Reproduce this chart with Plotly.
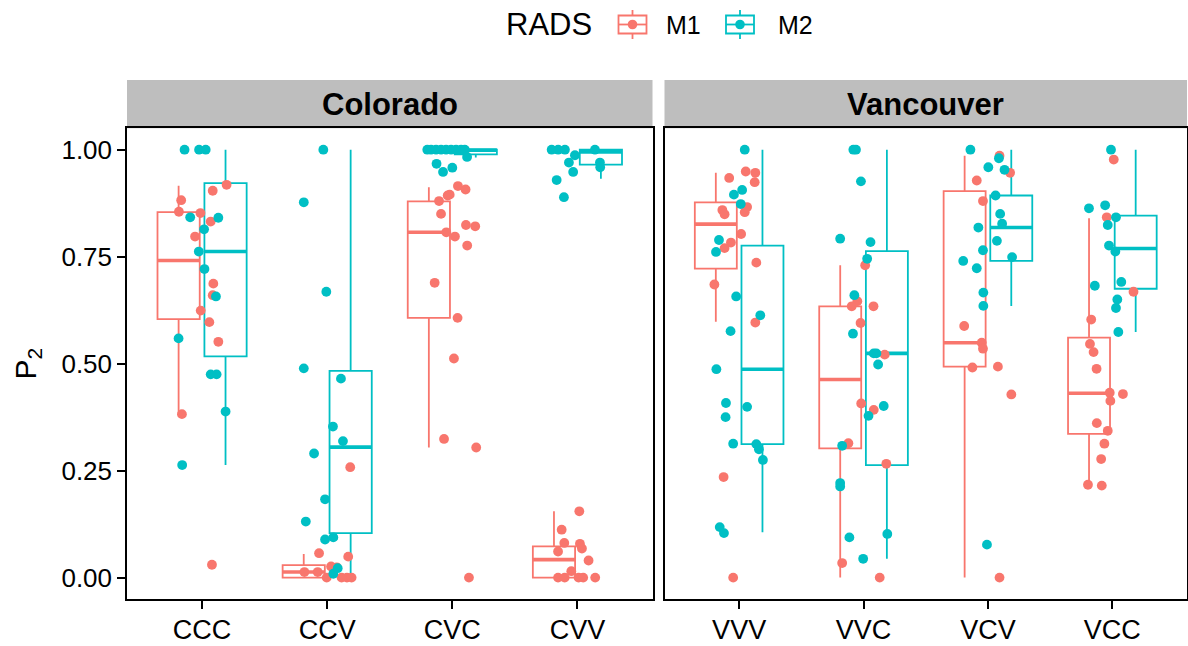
import plotly.graph_objects as go

FONT = "Liberation Sans, Arial, Helvetica, sans-serif"
RED = "#F8766D"
TEAL = "#00BFC4"

regions = ["Colorado", "Vancouver"]
colorado_cats = ["CCC", "CCV", "CVC", "CVV"]
vancouver_cats = ["VVV", "VVC", "VCV", "VCC"]
y_ticks = [0.0, 0.25, 0.5, 0.75, 1.0]
y_tick_labels = ["0.00", "0.25", "0.50", "0.75", "1.00"]
model_names = ["M1", "M2"]
legend_title = "RADS"

# Box summaries, order: CCC, CCV, CVC, CVV, VVV, VVC, VCV, VCC
m1_lower = [0.380, 0.0, 0.304, 0.0, 0.598, 0.0, 0.0, 0.217]
m1_q1 = [0.604, 0.0, 0.607, 0.0, 0.722, 0.302, 0.493, 0.336]
m1_median = [0.741, 0.013, 0.807, 0.042, 0.826, 0.463, 0.549, 0.431]
m1_q3 = [0.854, 0.029, 0.879, 0.073, 0.877, 0.634, 0.903, 0.561]
m1_upper = [0.916, 0.055, 0.912, 0.155, 0.946, 0.730, 0.986, 0.840]

m2_lower = [0.263, 0.0, 0.982, 0.932, 0.106, 0.044, 0.635, 0.574]
m2_q1 = [0.517, 0.104, 0.989, 0.965, 0.312, 0.263, 0.740, 0.675]
m2_median = [0.762, 0.305, 0.999, 0.995, 0.487, 0.524, 0.818, 0.769]
m2_q3 = [0.922, 0.483, 1.0, 1.0, 0.776, 0.763, 0.893, 0.846]
m2_upper = [1.0, 1.0, 1.0, 1.0, 1.0, 1.0, 1.0, 1.0]

# Observations (P2 value and horizontal jitter within the category)
ccc_m1_y = [0.918, 0.904, 0.882, 0.855, 0.852, 0.832, 0.797, 0.687, 0.660, 0.624, 0.597, 0.551, 0.382, 0.030]
ccc_m1_dx = [0.196, 0.085, -0.167, -0.185, -0.013, 0.069, -0.056, 0.090, 0.085, -0.011, 0.058, 0.130, -0.161, 0.079]
ccc_m2_y = [1.0, 1.0, 1.0, 0.842, 0.841, 0.814, 0.762, 0.721, 0.657, 0.559, 0.475, 0.475, 0.388, 0.263]
ccc_m2_dx = [-0.140, -0.024, 0.029, -0.095, 0.130, 0.016, -0.026, 0.019, 0.111, -0.188, 0.069, 0.116, 0.188, -0.159]

ccv_m1_y = [0.258, 0.057, 0.049, 0.013, 0.013, 0.026, 0.024, 0.0, 0.0, 0.0, 0.0]
ccv_m1_dx = [0.184, -0.065, 0.168, -0.182, -0.076, 0.031, 0.076, -0.004, 0.115, 0.158, 0.195]
ccv_m2_y = [1.0, 0.877, 0.668, 0.489, 0.465, 0.353, 0.319, 0.290, 0.183, 0.131, 0.089, 0.094, 0.009, 0.022]
ccv_m2_dx = [-0.031, -0.187, -0.007, -0.187, 0.110, 0.046, 0.126, -0.105, -0.017, -0.171, -0.017, 0.049, 0.049, 0.084]

cvc_m1_y = [0.915, 0.907, 0.893, 0.895, 0.880, 0.850, 0.824, 0.821, 0.807, 0.797, 0.776, 0.689, 0.607, 0.512, 0.324, 0.304, 0.0]
cvc_m1_dx = [0.045, 0.106, -0.037, -0.021, -0.106, -0.090, 0.109, 0.183, -0.048, 0.021, 0.119, -0.141, 0.042, 0.013, -0.066, 0.191, 0.133]
cvc_m2_y = [1.0, 1.0, 1.0, 1.0, 1.0, 1.0, 1.0, 1.0, 1.0, 0.983, 0.967, 0.948, 0.958]
cvc_m2_dx = [-0.20, -0.17, -0.13, -0.09, -0.05, -0.01, 0.03, 0.07, 0.10, 0.118, -0.126, -0.074, 0.0]

cvv_m1_y = [0.155, 0.112, 0.081, 0.079, 0.068, 0.061, 0.040, 0.015, 0.0, 0.0, 0.0, 0.0, 0.0]
cvv_m1_dx = [0.015, -0.126, -0.105, 0.020, 0.036, -0.155, 0.089, -0.049, -0.155, -0.102, 0.009, 0.046, 0.142]
cvv_m2_y = [1.0, 1.0, 1.0, 1.0, 0.987, 0.970, 0.970, 0.959, 0.948, 0.929, 0.889]
cvv_m2_dx = [-0.206, -0.154, -0.100, 0.140, -0.020, -0.068, 0.180, 0.182, -0.034, -0.166, -0.108]

vvv_m1_y = [0.949, 0.946, 0.924, 0.934, 0.866, 0.854, 0.859, 0.849, 0.803, 0.783, 0.770, 0.736, 0.685, 0.596, 0.235, 0.0]
vvv_m1_dx = [0.053, 0.130, 0.125, -0.080, 0.064, 0.045, -0.135, -0.117, 0.016, -0.066, -0.117, 0.138, -0.199, 0.130, -0.125, -0.048]
vvv_m2_y = [1.0, 0.906, 0.895, 0.873, 0.789, 0.761, 0.657, 0.613, 0.576, 0.487, 0.408, 0.399, 0.375, 0.313, 0.312, 0.300, 0.275, 0.118, 0.104]
vvv_m2_dx = [0.045, 0.024, -0.042, 0.013, -0.162, -0.186, -0.024, 0.170, -0.069, -0.183, -0.106, 0.064, -0.109, -0.048, 0.138, 0.159, 0.191, -0.156, -0.122]

vvc_m1_y = [0.730, 0.646, 0.634, 0.634, 0.595, 0.521, 0.407, 0.392, 0.314, 0.266, 0.034, 0.0]
vvc_m1_dx = [0.013, -0.050, -0.095, 0.080, -0.024, 0.170, -0.019, 0.082, -0.122, 0.183, -0.172, 0.130]
vvc_m2_y = [1.0, 1.0, 0.926, 0.792, 0.784, 0.745, 0.660, 0.570, 0.524, 0.524, 0.498, 0.401, 0.378, 0.308, 0.221, 0.213, 0.094, 0.102, 0.044]
vvc_m2_dx = [-0.082, -0.061, -0.021, -0.188, 0.056, 0.029, -0.074, -0.085, 0.082, 0.103, 0.117, 0.162, 0.040, -0.172, -0.188, -0.188, -0.114, 0.191, -0.003]

vcv_m1_y = [0.986, 0.946, 0.928, 0.880, 0.588, 0.549, 0.535, 0.491, 0.493, 0.428, 0.0]
vcv_m1_dx = [0.093, 0.178, -0.090, -0.040, -0.191, -0.050, -0.040, -0.125, 0.080, 0.188, 0.093]
vcv_m2_y = [1.0, 0.980, 0.959, 0.953, 0.893, 0.818, 0.850, 0.827, 0.787, 0.765, 0.740, 0.723, 0.749, 0.666, 0.635, 0.077]
vcv_m2_dx = [-0.141, 0.088, 0.003, 0.133, 0.061, -0.077, 0.098, 0.114, 0.072, -0.040, -0.199, -0.090, 0.194, -0.037, -0.037, -0.008]

vcc_m1_y = [0.977, 0.842, 0.668, 0.603, 0.546, 0.527, 0.488, 0.432, 0.429, 0.413, 0.361, 0.343, 0.313, 0.277, 0.217, 0.215]
vcc_m1_dx = [0.011, -0.045, 0.170, -0.170, -0.180, -0.151, -0.127, -0.021, 0.085, -0.016, -0.125, -0.037, -0.064, -0.090, -0.196, -0.085]
vcc_m2_y = [1.0, 0.863, 0.870, 0.842, 0.824, 0.776, 0.762, 0.682, 0.691, 0.650, 0.630, 0.574]
vcc_m2_dx = [-0.011, -0.188, -0.058, 0.029, -0.037, -0.027, 0.024, -0.141, 0.072, 0.040, 0.029, 0.048]

m1_points = [(ccc_m1_y, ccc_m1_dx), (ccv_m1_y, ccv_m1_dx), (cvc_m1_y, cvc_m1_dx), (cvv_m1_y, cvv_m1_dx),
             (vvv_m1_y, vvv_m1_dx), (vvc_m1_y, vvc_m1_dx), (vcv_m1_y, vcv_m1_dx), (vcc_m1_y, vcc_m1_dx)]
m2_points = [(ccc_m2_y, ccc_m2_dx), (ccv_m2_y, ccv_m2_dx), (cvc_m2_y, cvc_m2_dx), (cvv_m2_y, cvv_m2_dx),
             (vvv_m2_y, vvv_m2_dx), (vvc_m2_y, vvc_m2_dx), (vcv_m2_y, vcv_m2_dx), (vcc_m2_y, vcc_m2_dx)]

models = [
    (model_names[0], RED, -1, (m1_lower, m1_q1, m1_median, m1_q3, m1_upper), m1_points),
    (model_names[1], TEAL, 1, (m2_lower, m2_q1, m2_median, m2_q3, m2_upper), m2_points),
]

BOX_W = 0.3375
DODGE = 0.1875
LINE_W = 1.8

fig = go.Figure()
panel_axes = [("x", "y"), ("x2", "y2")]

# Boxes and thick median bars
for name, color, sign, stats, _ in models:
    lo, q1, med, q3, hi = stats
    for k in range(8):
        xa, ya = panel_axes[k // 4]
        pos = (k % 4) + 1 + sign * DODGE
        fig.add_trace(go.Box(
            x=[pos], lowerfence=[lo[k]], q1=[q1[k]], median=[med[k]], q3=[q3[k]], upperfence=[hi[k]],
            width=BOX_W, whiskerwidth=0, boxpoints=False,
            line=dict(color=color, width=LINE_W), fillcolor="rgba(255,255,255,0)",
            name=name, showlegend=False, xaxis=xa, yaxis=ya, hoverinfo="skip",
        ))
        fig.add_trace(go.Scatter(
            x=[pos - BOX_W / 2, pos + BOX_W / 2], y=[med[k], med[k]], mode="lines",
            line=dict(color=color, width=2 * LINE_W), showlegend=False,
            xaxis=xa, yaxis=ya, hoverinfo="skip",
        ))

# Jittered observations
for name, color, sign, stats, pts in models:
    for panel in range(2):
        xs, ys = [], []
        for j in range(4):
            yv, dx = pts[panel * 4 + j]
            xs += [j + 1 + d for d in dx]
            ys += list(yv)
        xa, ya = panel_axes[panel]
        fig.add_trace(go.Scatter(
            x=xs, y=ys, mode="markers", marker=dict(color=color, size=9.8, line=dict(width=0)),
            name=name, showlegend=False, xaxis=xa, yaxis=ya,
        ))

# Page geometry (pixels)
L, R, T, B = 127, 1, 80, 47
W, H = 1188, 646
W_TOTAL = W - L - R
H_TOTAL = H - T - B
x1_dom = [0.0, (652.5 - L) / W_TOTAL]
x2_dom = [(664.5 - L) / W_TOTAL, 1.0]
y_top = (H_TOTAL - 48.3) / H_TOTAL


def px(xp):
    return (xp - L) / W_TOTAL


def py(yp):
    return (H - B - yp) / H_TOTAL


axis_common = dict(showline=True, linecolor="black", linewidth=1.5, mirror=True,
                   showgrid=False, zeroline=False, ticks="outside", ticklen=8,
                   tickwidth=1.5, tickcolor="black", automargin=False)
xfont = dict(family=FONT, size=27, color="black")
yfont = dict(family=FONT, size=26, color="black")

fig.update_layout(
    width=W, height=H,
    margin=dict(l=L, r=R, t=T, b=B, autoexpand=False),
    paper_bgcolor="white", plot_bgcolor="white",
    boxmode="overlay", showlegend=False,
    font=dict(family=FONT, color="black"),
    xaxis=dict(domain=x1_dom, range=[0.4, 4.6], tickvals=[1, 2, 3, 4], ticktext=colorado_cats,
               anchor="y", tickfont=xfont, ticklabelstandoff=-2, **axis_common),
    xaxis2=dict(domain=x2_dom, range=[0.4, 4.6], tickvals=[1, 2, 3, 4], ticktext=vancouver_cats,
                anchor="y2", tickfont=xfont, ticklabelstandoff=-2, **axis_common),
    yaxis=dict(domain=[0, y_top], range=[-0.05, 1.05], tickvals=y_ticks, ticktext=y_tick_labels,
               anchor="x", tickfont=yfont,
               title=dict(text="P<sub>2</sub>", font=dict(family=FONT, size=30, color="black"),
                          standoff=16),
               **axis_common),
    yaxis2=dict(domain=[0, y_top], range=[-0.05, 1.05], matches="y", anchor="x2",
                showticklabels=False, showline=True, linecolor="black", linewidth=1.5, mirror=True,
                showgrid=False, zeroline=False, ticks="", automargin=False),
)

# Facet strips
for dom_ref, label in (("x domain", regions[0]), ("x2 domain", regions[1])):
    fig.add_shape(type="rect", xref=dom_ref, yref="paper", x0=0, x1=1, y0=y_top, y1=1,
                  fillcolor="#BEBEBE", line=dict(width=0), layer="below")
    fig.add_annotation(xref=dom_ref, yref="paper", x=0.5, y=(y_top + 1) / 2, text="<b>" + label + "</b>",
                       showarrow=False, font=dict(family=FONT, size=31, color="black"),
                       xanchor="center", yanchor="middle")

# Legend: title plus a boxplot key for each model
LEG_Y = 24.5
fig.add_annotation(xref="paper", yref="paper", x=px(504), y=py(LEG_Y), text=legend_title,
                   showarrow=False, xanchor="left", yanchor="middle",
                   font=dict(family=FONT, size=31, color="black"))
for (name, color, _, _, _), key_x, text_x in zip(models, (632.5, 740.0), (664.0, 775.5)):
    line = dict(color=color, width=1.8)
    fig.add_shape(type="line", xref="paper", yref="paper", x0=px(key_x), x1=px(key_x),
                  y0=py(10), y1=py(39), line=line)
    fig.add_shape(type="rect", xref="paper", yref="paper", x0=px(key_x - 14), x1=px(key_x + 14),
                  y0=py(15.5), y1=py(33.5), line=line, fillcolor="white")
    fig.add_shape(type="line", xref="paper", yref="paper", x0=px(key_x - 14), x1=px(key_x + 14),
                  y0=py(LEG_Y), y1=py(LEG_Y), line=line)
    fig.add_shape(type="circle", xref="paper", yref="paper", x0=px(key_x - 4.8), x1=px(key_x + 4.8),
                  y0=py(LEG_Y + 4.8), y1=py(LEG_Y - 4.8), line=dict(width=0), fillcolor=color)
    fig.add_annotation(xref="paper", yref="paper", x=px(text_x), y=py(LEG_Y + 0.5), text=name,
                       showarrow=False, xanchor="left", yanchor="middle",
                       font=dict(family=FONT, size=25, color="black"))

fig.write_html("out.html")
